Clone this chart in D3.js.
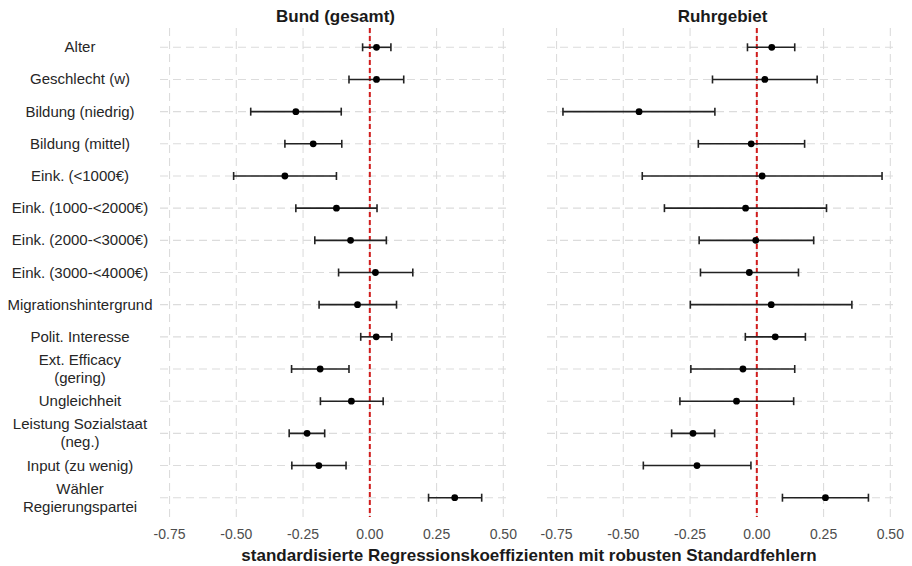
<!DOCTYPE html>
<html>
<head>
<meta charset="utf-8">
<script src="https://cdn.jsdelivr.net/npm/d3@7"></script>
<style>
  body { margin: 0; background: #fff; }
  svg { font-family: "Liberation Sans", Arial, sans-serif; }
</style>
</head>
<body>
<div id="chart"></div>
<script>
// Data
const categories = [
  'Alter', 'Geschlecht (w)', 'Bildung (niedrig)', 'Bildung (mittel)',
  'Eink. (<1000€)', 'Eink. (1000-<2000€)', 'Eink. (2000-<3000€)', 'Eink. (3000-<4000€)',
  'Migrationshintergrund', 'Polit. Interesse', 'Ext. Efficacy\n(gering)', 'Ungleichheit',
  'Leistung Sozialstaat\n(neg.)', 'Input (zu wenig)', 'Wähler\nRegierungspartei'
];
const panels = ['Bund (gesamt)', 'Ruhrgebiet'];

const bundEst   = [0.025, 0.025, -0.277, -0.212, -0.318, -0.125, -0.072, 0.021, -0.046, 0.024, -0.186, -0.069, -0.235, -0.191, 0.318];
const bundLow   = [-0.027, -0.078, -0.446, -0.318, -0.510, -0.277, -0.206, -0.117, -0.190, -0.034, -0.293, -0.185, -0.302, -0.292, 0.220];
const bundHigh  = [0.079, 0.127, -0.107, -0.105, -0.125, 0.027, 0.062, 0.161, 0.100, 0.082, -0.078, 0.050, -0.169, -0.089, 0.419];

const ruhrEst   = [0.056, 0.030, -0.441, -0.021, 0.020, -0.042, -0.004, -0.028, 0.054, 0.069, -0.052, -0.076, -0.239, -0.224, 0.257];
const ruhrLow   = [-0.035, -0.166, -0.726, -0.219, -0.429, -0.346, -0.216, -0.211, -0.249, -0.043, -0.247, -0.288, -0.319, -0.425, 0.096];
const ruhrHigh  = [0.142, 0.226, -0.157, 0.179, 0.469, 0.261, 0.213, 0.156, 0.356, 0.182, 0.142, 0.138, -0.158, -0.022, 0.418];

const xTicks = [-0.75, -0.5, -0.25, 0, 0.25, 0.5];
const xTitle = 'standardisierte Regressionskoeffizienten mit robusten Standardfehlern';

const series = [
  { name: panels[0], est: bundEst, low: bundLow, high: bundHigh },
  { name: panels[1], est: ruhrEst, low: ruhrLow, high: ruhrHigh }
];

// Layout
const width = 912, height = 566;
const panelX = [[160, 511], [547, 898]];
const plotTop = 28, plotBottom = 517;

const svg = d3.select('#chart').append('svg')
  .attr('width', width)
  .attr('height', height);

// shared x domain with ggplot-like 5% expansion
const allVals = bundLow.concat(bundHigh, ruhrLow, ruhrHigh);
const lo = d3.min(allVals), hi = d3.max(allVals);
const pad = (hi - lo) * 0.05;
const xDomain = [lo - pad, hi + pad];

// y: discrete with 0.6 expansion
const y = d3.scalePoint()
  .domain(categories)
  .range([plotTop, plotBottom])
  .padding(0.6);

const gridColor = '#dcdcdc';

series.forEach((s, pi) => {
  const x = d3.scaleLinear().domain(xDomain).range(panelX[pi]);
  const g = svg.append('g');

  // horizontal grid
  g.selectAll('.hgrid')
    .data(categories)
    .enter().append('line')
    .attr('x1', panelX[pi][0]).attr('x2', panelX[pi][1])
    .attr('y1', d => y(d)).attr('y2', d => y(d))
    .attr('stroke', gridColor)
    .attr('stroke-width', 1.1)
    .attr('stroke-dasharray', '8,5');

  // vertical grid
  g.selectAll('.vgrid')
    .data(xTicks)
    .enter().append('line')
    .attr('x1', d => x(d)).attr('x2', d => x(d))
    .attr('y1', plotTop).attr('y2', plotBottom)
    .attr('stroke', gridColor)
    .attr('stroke-width', 1.1)
    .attr('stroke-dasharray', '8,5');

  // x tick labels
  g.selectAll('.tick')
    .data(xTicks)
    .enter().append('text')
    .attr('x', d => x(d))
    .attr('y', 539)
    .attr('text-anchor', 'middle')
    .attr('fill', '#4d4d4d')
    .attr('font-size', '14px')
    .text(d => d3.format('.2f')(d).replace('−', '-'));

  // panel title
  g.append('text')
    .attr('x', (panelX[pi][0] + panelX[pi][1]) / 2)
    .attr('y', 22)
    .attr('text-anchor', 'middle')
    .attr('font-weight', 'bold')
    .attr('font-size', '17px')
    .attr('fill', '#1a1a1a')
    .text(s.name);

  // zero reference line
  g.append('line')
    .attr('x1', x(0)).attr('x2', x(0))
    .attr('y1', plotTop).attr('y2', plotBottom)
    .attr('stroke', '#d01c1c')
    .attr('stroke-width', 2)
    .attr('stroke-dasharray', '5,3');

  const rows = categories.map((c, i) => ({ c, est: s.est[i], low: s.low[i], high: s.high[i] }));

  // error bars
  const eb = g.selectAll('.eb').data(rows).enter().append('g');
  eb.append('line')
    .attr('x1', d => x(d.low)).attr('x2', d => x(d.high))
    .attr('y1', d => y(d.c)).attr('y2', d => y(d.c))
    .attr('stroke', '#222').attr('stroke-width', 1.6);
  eb.append('line')
    .attr('x1', d => x(d.low)).attr('x2', d => x(d.low))
    .attr('y1', d => y(d.c) - 4).attr('y2', d => y(d.c) + 4)
    .attr('stroke', '#222').attr('stroke-width', 1.6);
  eb.append('line')
    .attr('x1', d => x(d.high)).attr('x2', d => x(d.high))
    .attr('y1', d => y(d.c) - 4).attr('y2', d => y(d.c) + 4)
    .attr('stroke', '#222').attr('stroke-width', 1.6);
  eb.append('circle')
    .attr('cx', d => x(d.est))
    .attr('cy', d => y(d.c))
    .attr('r', 3.4)
    .attr('fill', '#000');
});

// y axis labels (centered)
const yLab = svg.append('g');
categories.forEach(c => {
  const lines = c.split('\n');
  const lh = 18;
  const t = yLab.append('text')
    .attr('x', 80)
    .attr('text-anchor', 'middle')
    .attr('fill', '#262626')
    .attr('font-size', '15px');
  lines.forEach((ln, i) => {
    t.append('tspan')
      .attr('x', 80)
      .attr('y', y(c) + 5 + (i - (lines.length - 1) / 2) * lh)
      .text(ln);
  });
});

// x axis title
svg.append('text')
  .attr('x', (panelX[0][0] + panelX[1][1]) / 2)
  .attr('y', 561)
  .attr('text-anchor', 'middle')
  .attr('font-weight', 'bold')
  .attr('font-size', '17px')
  .attr('fill', '#1a1a1a')
  .text(xTitle);
</script>
</body>
</html>
